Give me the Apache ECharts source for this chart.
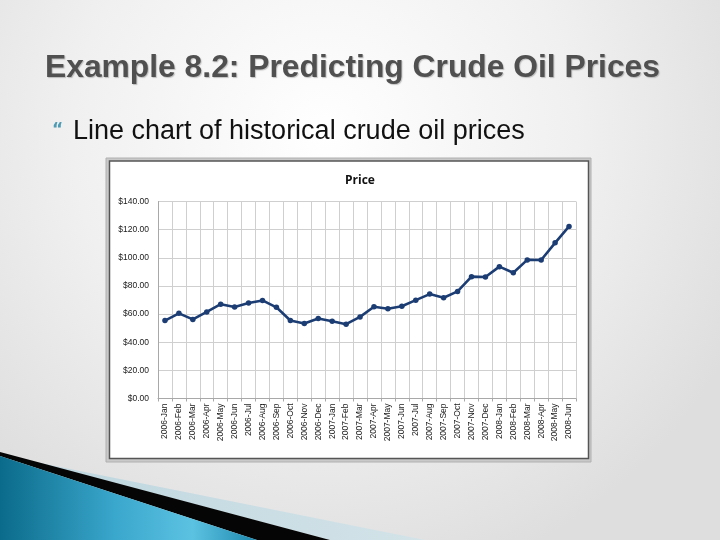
<!DOCTYPE html>
<html>
<head>
<meta charset="utf-8">
<script src="https://cdn.jsdelivr.net/npm/echarts@6/dist/echarts.min.js"></script>
<style>
html,body{margin:0;padding:0;width:720px;height:540px;overflow:hidden;}
#main{width:720px;height:540px;}
</style>
</head>
<body>
<div id="main"></div>
<script>
var slideTitle = 'Example 8.2: Predicting Crude Oil Prices';
var bulletText = 'Line chart of historical crude oil prices';
var chartTitle = 'Price';
var categories = ['2006-Jan','2006-Feb','2006-Mar','2006-Apr','2006-May','2006-Jun','2006-Jul','2006-Aug','2006-Sep','2006-Oct','2006-Nov','2006-Dec',
  '2007-Jan','2007-Feb','2007-Mar','2007-Apr','2007-May','2007-Jun','2007-Jul','2007-Aug','2007-Sep','2007-Oct','2007-Nov','2007-Dec',
  '2008-Jan','2008-Feb','2008-Mar','2008-Apr','2008-May','2008-Jun'];
var prices = [55.4, 60.5, 56.2, 61.5, 67.0, 65.0, 67.8, 69.7, 64.8, 55.4, 53.3, 56.8,
  54.9, 52.8, 58.0, 65.2, 63.8, 65.6, 69.9, 74.2, 71.6, 76.1, 86.6, 86.3,
  93.7, 89.4, 98.5, 98.4, 110.6, 122.3];
var yMin = 0, yMax = 140, yStep = 20;

var chart = echarts.init(document.getElementById('main'), null, {renderer: 'canvas'});
var option = {
  animation: false,
  graphic: [
    {type: 'rect', z: -20, shape: {x: 0, y: 0, width: 720, height: 540},
     style: {fill: new echarts.graphic.RadialGradient(0.45, 0.25, 0.85, [
       {offset: 0, color: '#ffffff'}, {offset: 0.55, color: '#f0f0f0'}, {offset: 1, color: '#dedede'}])}},
    // swoosh
    {type: 'polygon', z: -19, shape: {points: [[20, 459], [425, 540], [330, 540], [0, 453]]},
     style: {fill: new echarts.graphic.LinearGradient(0, 0, 1, 0, [
       {offset: 0, color: '#bcd5de'}, {offset: 1, color: '#d3e3e8'}])}},
    {type: 'polygon', z: -18, shape: {points: [[0, 452], [330, 540], [257, 540], [0, 456]]},
     style: {fill: '#050505'}},
    {type: 'polygon', z: -18, shape: {points: [[0, 456], [257, 540], [0, 540]]},
     style: {fill: new echarts.graphic.LinearGradient(0, 0, 1, 0, [
       {offset: 0, color: '#0b6b8b'}, {offset: 0.45, color: '#3aa7cc'},
       {offset: 0.75, color: '#5cc2e2'}, {offset: 1, color: '#1d88ad'}])}},
    // chart frame
    {type: 'rect', z: -15, shape: {x: 106, y: 158, width: 485, height: 304},
     style: {fill: '#c9c9c9', stroke: '#b0b0b0', lineWidth: 1}},
    {type: 'rect', z: -14, shape: {x: 109.5, y: 161, width: 479, height: 297.5},
     style: {fill: '#ffffff', stroke: '#555555', lineWidth: 1.5}},
    // texts
    {type: 'text', z: 10, left: 45, top: 52,
     style: {text: slideTitle, font: 'bold 31.8px "Liberation Sans", Arial, sans-serif', fill: '#505050',
       textShadowColor: 'rgba(0,0,0,0.22)', textShadowOffsetX: 1, textShadowOffsetY: 1, textShadowBlur: 1}},
    {type: 'text', z: 10, left: 52, top: 122,
     style: {text: '\u201C', font: 'bold 17px "DejaVu Sans", sans-serif', fill: '#4f9bb4'}},
    {type: 'text', z: 10, left: 73, top: 118,
     style: {text: bulletText, font: '27px "Liberation Sans", Arial, sans-serif', fill: '#111111'}},
    {type: 'text', z: 10, left: 'center', top: 175,
     style: {text: chartTitle, font: 'bold 12px "Open Sans", "DejaVu Sans", sans-serif', fill: '#111111'}}
  ],
  grid: {left: 158, right: 144, top: 201.5, bottom: 141.5, containLabel: false},
  xAxis: {
    type: 'category',
    data: categories,
    boundaryGap: true,
    axisLine: {show: true, lineStyle: {color: '#a8a8a8', width: 1}},
    axisTick: {show: true, length: 3, interval: 0, lineStyle: {color: '#a8a8a8'}},
    splitLine: {show: true, interval: 0, lineStyle: {color: '#cfcfcf', width: 1}},
    axisLabel: {interval: 0, rotate: 90, margin: 5, color: '#1a1a1a',
      fontSize: 8.5, fontFamily: '"Liberation Sans", Arial, sans-serif'}
  },
  yAxis: {
    type: 'value',
    min: yMin, max: yMax, interval: yStep,
    axisLine: {show: true, lineStyle: {color: '#a8a8a8', width: 1}},
    axisTick: {show: false},
    splitLine: {show: true, lineStyle: {color: '#cfcfcf', width: 1}},
    axisLabel: {margin: 9, color: '#1a1a1a', fontSize: 8.5,
      fontFamily: '"Liberation Sans", Arial, sans-serif',
      formatter: function (v) { return '$' + v.toFixed(2); }}
  },
  series: [{
    type: 'line',
    data: prices,
    symbol: 'circle',
    symbolSize: 5.5,
    lineStyle: {color: '#1c3d74', width: 2.6},
    itemStyle: {color: '#1c3d74'},
    z: 5
  }]
};
chart.setOption(option);
</script>
</body>
</html>
